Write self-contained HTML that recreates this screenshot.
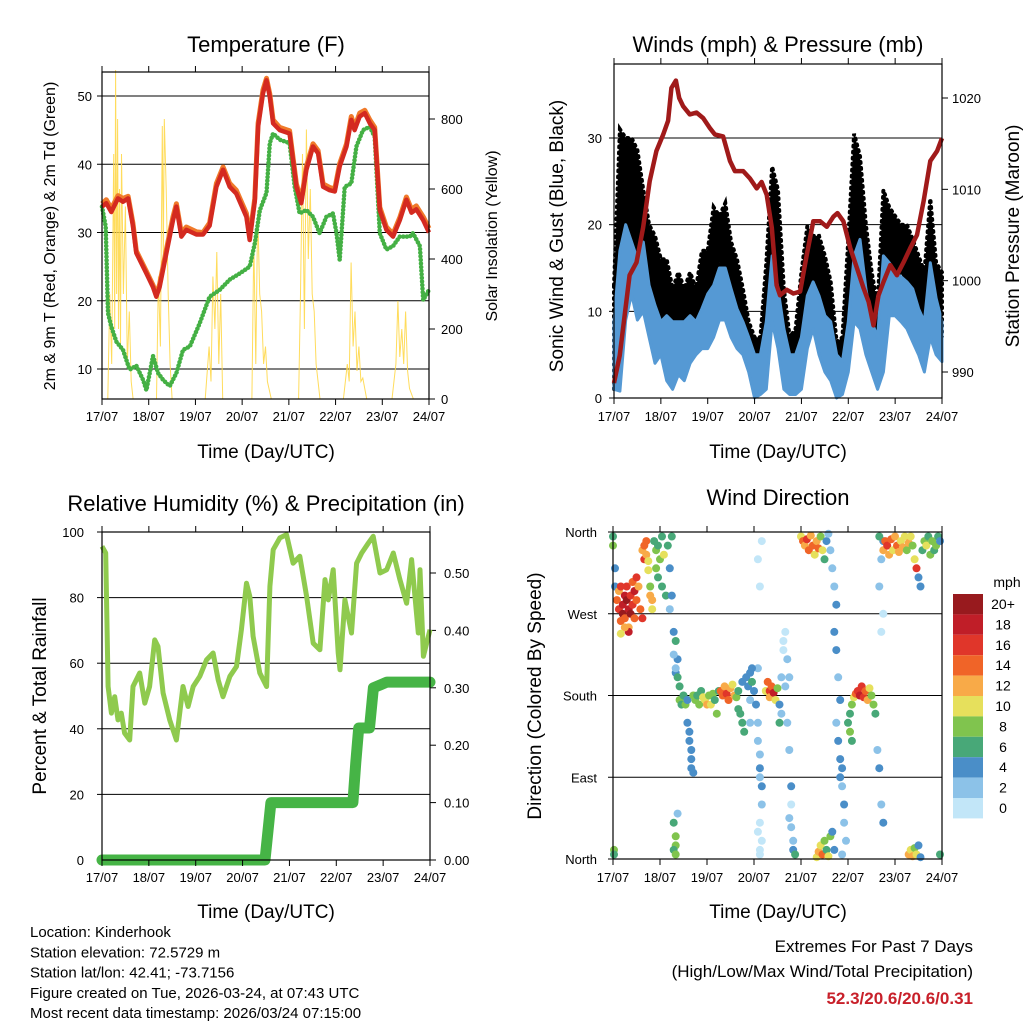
<!DOCTYPE html>
<html><head><meta charset="utf-8">
<style>
html,body{margin:0;padding:0;background:#fff;}
svg{display:block;font-family:"Liberation Sans",Arial,sans-serif;}
</style></head>
<body>
<svg id="c" width="1024" height="1024" viewBox="0 0 1024 1024" xmlns="http://www.w3.org/2000/svg">
</svg>
<script>
// ---------- Temperature panel data ----------
const tempHours=[0,2.2,4.8,8.2,10.8,13.4,15.9,17.6,22.8,26.2,27.9,29.6,33.1,36.5,38.2,40.8,43.3,48.5,51.9,55.3,58.8,62.2,65.6,69.0,74.2,75.9,78.5,80.2,82.7,84.5,86.2,87.9,91.3,96.4,99.9,102.4,105.0,108.4,111.0,113.6,117.0,119.6,122.1,125.6,128.1,129.8,132.4,135.0,137.6,140.1,142.7,146.1,149.5,153.0,156.4,159.0,161.5,165.0,168];
const temp2m=[33.8,34.3,33,35,34.5,35,31,27,24,22,20.6,22,27,31.8,33.8,29.4,30.4,29.7,29.7,31,36.7,39.2,36.7,35.7,32.3,28.9,34.6,45.5,50.4,52.3,49.9,46,45,44.5,36.7,34.3,39.2,42.6,41.6,36.7,36.2,36,39.7,42.6,46.5,45,47,47.5,46,45,33.3,30.4,29.4,31.8,34.8,32.9,33.4,31.8,30];
const temp9m=[34.2,34.8,33.5,35.4,35,35.3,31.4,27.3,24.3,22.3,20.9,22.4,27.5,32.3,34.2,29.9,30.8,30.1,30,31.4,37.2,39.6,37.2,36.2,32.8,29.4,35,46,50.9,52.6,50.3,46.5,45.4,44.9,37.1,34.7,39.7,43,42,37.1,36.6,36.4,40.1,43,47,45.4,47.5,47.9,46.5,45.4,33.7,30.8,29.8,32.2,35.2,33.4,33.9,32.3,30.6];
const dewHours=[0,1.9,3.1,4.8,7.4,10.8,14.2,17.6,21.1,22.8,26.2,28.8,31.4,34.8,38.2,41.6,45.1,50.2,55.3,60.5,65.6,70.8,75.9,78.5,81.1,84.5,86.2,87.9,91.3,96.4,99.0,101.5,105.0,108.4,111.8,115.3,118.7,120.4,122.1,124.7,128.1,130.7,134.1,137.6,140.1,142.7,146.1,149.5,153.0,158.1,159.8,163.3,165.0,168];
const dewPoint=[33.8,30.9,18.2,16.2,14,12.8,9.9,10.5,8.4,6.9,11.9,9.4,8.4,7.5,9.4,12.8,13.3,16.7,20.6,21.6,23.1,24,25,28.4,33.3,35.8,43.1,44.5,43.6,43.1,36.7,32.8,33.3,32.3,29.9,32.3,32.8,30,26,36.7,37.2,42.6,45,45.5,44,29.9,27.5,28,29.4,29.4,29.9,28,20.1,21.6];
const solarHours=[0,3,4,5,6,6.5,7,7.5,8,8.5,9,9.5,10,11,12,13,14,15,16,28,29,30,31,31.5,32,33,34,35,36,53,55,56,57,58,59,60,61,62,77,78,79,80,81,82,83,84,85,87,101,102,103,104,105,106,107,108,109,110,112,124,126,127,128,129,130,131,132,133,134,136,149,151,152,153,154,155,156,157,158,160,168];
const solarWm2=[0,0,300,100,700,200,940,300,800,200,600,150,700,300,550,100,250,50,0,0,350,150,780,400,800,600,300,100,0,0,150,50,350,200,420,100,300,0,0,450,100,540,300,250,100,150,50,0,0,300,700,200,770,400,600,300,250,100,0,0,100,50,390,150,250,80,150,50,60,0,0,100,280,120,200,100,250,80,30,0,0];
const tempTicks=[10,20,30,40,50];
const solarTicks=[0,200,400,600,800];
const dayLabels=["17/07","18/07","19/07","20/07","21/07","22/07","23/07","24/07"];

// ---------- Wind panel data ----------
const windHours=[0,3,6,9,12,15,18,21,24,27,30,33,36,39,42,45,48,51,54,57,60,63,66,69,72,75,78,81,84,87,90,93,96,99,102,105,108,111,114,117,120,123,126,129,132,135,138,141,144,147,150,153,156,159,162,165,168];
const gustHigh=[13,31,30,30,28.6,24,20,18.7,16,16,12.6,14.5,12.6,14.5,12.6,17,17,22,21,22.5,18,16,12.6,8.8,7,7,15.6,26.7,24,12.6,7,8,14.5,19.8,18.7,18.7,16.4,13.4,6.5,7,18.3,30.5,27.9,20,14.5,10.7,24,22,21,20,20,18.3,16.4,14.5,23,15.6,14.5];
const gustLow=[1,16,18,16,16,14.5,12.6,9.5,8.8,8.8,7.6,7,7,8.8,8.8,10.3,10.3,12.6,15.6,15,12,9.5,7.6,5,2,3,5,10.7,12.6,6,3,3,7,10.7,12.6,10.7,8.8,7,2.7,3,8.8,14.5,12.6,8.8,7,5,12.6,14.5,13.4,14.5,12.6,12.6,8.8,8.8,10.7,8.8,7];
const windHigh=[8.8,17,20,18,16,18,13,10.7,8.8,9.5,8.8,8.8,8.8,9.5,8.8,10.3,12,13,15,15,12.6,10.3,8.8,7,5,5,8.8,16.4,12.6,8,5,5,7,11.8,13.4,11.8,9.5,8.8,5,4.2,8.8,16.4,18.3,12.6,8.8,7,16.4,15.6,14.5,14,13.4,12.6,10.3,8.8,15.6,11.5,8.8];
const windLow=[1,0.8,9,12,9,10,7,4,5,2,1,2.7,2,4,5,5.7,5.7,7,9,9,7,5.7,5,3,0,0.4,1,8.8,5.7,1,0.4,0.4,1,5.7,8,5,3,2,0,0.4,3,8.8,8,5,3,1,3,9.5,9.5,8.8,8,6.5,5,3,7,5,4.2];
const presHours=[0,2.9,8.0,11.5,14.9,18.3,21.7,25.2,27.7,29.4,31.7,33.4,35.4,38.8,42.3,45.7,49.1,51.7,55.9,59.4,61.9,66.2,69.6,73.1,75.6,78.2,80.8,83.3,85.0,88.5,91.9,95.3,98.7,102.1,105.6,109.0,112.4,114.5,117.5,121.0,124.4,127.8,130.4,132.9,135.5,138.1,141.5,144.9,148.3,151.8,155.2,158.6,162.0,165.5,168];
const pressureMb=[988.8,991.8,1000.6,1002,1005.8,1010.9,1014.2,1016,1017.5,1021.1,1021.9,1020,1019.1,1018.2,1018.4,1017.8,1016.7,1016,1015.8,1013.1,1012,1012,1011.2,1010.1,1010.8,1009.4,1005.8,999.5,998.4,999,998.6,998.8,1002.8,1006.5,1006.5,1005.9,1007,1007.4,1006.5,1003.6,1001.4,999.2,997.7,995.1,998.4,999.9,1001.7,1000.6,1002,1003.6,1005,1008.7,1013.1,1014.2,1015.6];
const windTicks=[0,10,20,30];
const presTicks=[990,1000,1010,1020];

// ---------- RH / precip data ----------
const rhHours=[0,1.9,3.1,4.8,6.5,8.2,9.9,11.6,14.2,15.9,19.3,21.9,24.4,27.0,28.7,31.3,34.7,38.1,41.5,44.1,46.7,50.1,53.5,56.9,59.5,62.0,65.5,68.9,71.4,74.0,75.7,77.4,80.8,84.3,86.0,87.7,91.1,94.5,97.9,101.3,104.8,108.2,111.6,114.2,115.9,118.4,121.0,121.9,124.4,127.8,130.4,133.0,136.4,138.9,142.4,145.8,149.2,152.6,156.0,158.6,162.0,162.9,164.6,168];
const rhValues=[95.6,93.6,52.9,44.8,49.8,42.7,44.8,38.7,36.6,52.9,57,47.8,52.9,67.1,65.1,50.9,42.7,36.6,52.9,46.8,52.9,56,61,63.1,54.9,49.8,56,59,70.2,84.4,80.4,68.2,57,52.9,83.4,94.6,98.2,99.2,90.5,92.6,80.4,66.1,64.1,85.5,79.3,88.5,63.1,58,79.3,69.2,90.5,93.6,96.6,98.7,87.5,88.5,93.6,85.5,78.3,91.6,69.2,88.5,62.1,70.2];
const precipHours=[0,83.5,86.5,128.5,130,131.5,137,139,146,168];
const precipIn=[0,0,0.1,0.1,0.17,0.23,0.23,0.3,0.31,0.31];
const rhTicks=[0,20,40,60,80,100];
const precipTicks=[0,0.1,0.2,0.3,0.4,0.5];

// ---------- Wind direction data: [hour, degrees, mph] ----------
const dirObs=[[0,355,6],[0,345,8],[0.5,10,8],[0.5,5,6],[1,320,4],[1,300,4],
[2,285,14],[3,275,16],[3,295,12],[4,262,14],[4,300,16],[5,280,18],[5,270,20],[6,290,18],[6,265,14],[7,285,20],[7,300,16],[8,275,18],[8,255,12],[9,290,16],[9,270,20],[10,305,14],[10,280,16],[11,295,18],[11,265,14],[12,310,16],[12,285,14],[13,300,12],[14,275,14],[15,265,16],[8,250,18],[6,255,12],[4,248,10],
[15,340,12],[16,345,14],[16,330,16],[17,335,12],[17,350,14],[18,328,10],[18,318,10],[19,300,8],[19,290,12],[20,275,10],[20,285,12],
[21,350,6],[22,340,8],[22,320,8],[23,345,6],[23,310,6],[24,330,8],[25,300,6],[25,355,6],[26,335,10],[27,290,6],[28,345,6],[29,320,4],[30,355,6],[29,275,2],[30,290,4],
[31,250,4],[32,240,6],[33,220,4],[31,225,2],[32,205,4],[33,200,6],[34,190,6],[34,175,8],[35,170,6],[32,210,2],[31,40,6],[32,25,8],[32,15,8],[31,10,6],[32,5,8],[33,50,2],
[36,180,6],[37,170,8],[38,175,4],[38,150,4],[39,140,4],[39,130,4],[40,120,4],[40,110,4],[41,180,8],[42,175,8],[43,180,6],[44,170,8],[45,185,6],[46,178,10],[47,175,10],[48,170,12],[49,180,8],[50,170,10],[51,182,8],[52,175,6],[53,160,8],[54,185,6],[40,100,4],[41,95,4],
[55,185,14],[56,180,14],[57,190,12],[58,182,16],[59,175,14],[60,188,12],[61,192,10],[62,180,12],[63,178,8],[64,185,6],[64,165,6],[65,160,6],[66,150,6],[66,195,4],[67,140,6],
[68,200,4],[69,190,4],[70,205,4],[70,175,2],[71,195,6],[72,185,4],[73,170,4],[74,210,2],[70,150,2],[71,210,4],
[74,150,2],[74,130,2],[75,115,2],[75,100,4],[75,90,2],[76,80,4],[76,60,2],[75,40,0],[74,30,0],[76,20,0],[75,10,0],[75,5,0],[76,350,0],[74,330,0],[75,300,0],
[78,185,10],[79,195,14],[80,185,16],[80,178,12],[81,190,14],[82,183,18],[83,175,10],[84,188,8],[85,170,4],[86,160,2],[86,200,2],[87,230,0],[87,240,0],[88,250,0],[88,190,2],[85,150,6],
[89,220,2],[90,200,2],[91,60,0],[90,45,2],[91,35,2],[92,20,2],[92,10,4],[93,5,6],[89,150,2],[90,120,2],[91,80,4],
[96,355,10],[97,350,14],[98,345,12],[99,352,16],[100,340,14],[101,356,12],[102,345,14],[103,335,10],[104,350,12],[105,342,14],[106,355,8],[107,340,10],[108,330,6],[109,350,4],[110,358,2],
[104,2,10],[105,8,12],[106,15,10],[107,5,14],[108,20,8],[109,10,6],[110,3,10],[111,25,8],
[111,340,2],[112,320,2],[113,300,2],[114,280,4],[113,250,4],[114,230,4],[115,200,2],[116,175,4],[114,150,2],[115,130,4],[116,110,4],[117,100,4],[116,90,4],[117,80,2],[118,60,4],[118,40,2],[119,20,2],[117,5,2],[112,30,4],[113,10,4],
[120,150,6],[121,160,6],[122,170,8],[123,178,10],[124,182,14],[125,185,16],[126,180,18],[127,190,16],[128,178,16],[129,185,14],[130,175,12],[131,188,10],[132,180,8],[133,170,8],[134,160,6],[121,140,8],[122,130,6],
[135,120,2],[136,100,4],[137,60,2],[138,40,4],[137,250,0],[138,270,0],[136,300,2],[137,330,2],[138,350,4],
[136,355,6],[138,340,12],[139,350,14],[140,345,16],[141,335,12],[142,352,14],[143,340,10],[144,355,12],[145,345,14],[146,338,12],[147,350,10],[148,343,12],[149,355,10],[150,340,8],[151,348,12],[152,355,10],
[153,345,8],[154,330,10],[155,320,16],[156,310,4],[157,300,4],[158,340,6],[159,350,8],[160,345,10],[161,355,6],[162,335,8],[163,350,8],[164,340,6],[165,345,8],[166,355,6],[167,350,4],
[151,5,12],[152,10,10],[153,3,12],[154,12,8],[155,5,10],[156,15,4],[157,2,4],[167,5,6]];
const dirTicks=[0,90,180,270,360];
const dirTickLabels=["North","East","South","West","North"];
const speedLegendLabels=["20+","18","16","14","12","10","8","6","4","2","0"];

// ---------- drawing ----------
const NS="http://www.w3.org/2000/svg";
const svg=document.getElementById('c');
function el(tag,attrs,parent){const e=document.createElementNS(NS,tag);for(const k in attrs)e.setAttribute(k,attrs[k]);(parent||svg).appendChild(e);return e;}
function txt(x,y,s,size,anchor,parent,extra){const t=el('text',Object.assign({x:x,y:y,'font-size':size,'text-anchor':anchor||'middle',fill:'#000'},extra||{}),parent);t.textContent=s;return t;}
function lin(d0,d1,r0,r1){return v=>r0+(v-d0)/(d1-d0)*(r1-r0);}
function pathOf(xs,ys,fx,fy){return xs.map((h,i)=>(i?'L':'M')+fx(h).toFixed(1)+','+fy(ys[i]).toFixed(1)).join('');}
function bandOf(xs,hi,lo,fx,fy){let d=xs.map((h,i)=>(i?'L':'M')+fx(h).toFixed(1)+','+fy(hi[i]).toFixed(1)).join('');for(let i=xs.length-1;i>=0;i--)d+='L'+fx(xs[i]).toFixed(1)+','+fy(lo[i]).toFixed(1);return d+'Z';}

function frame(g,L,T,R,B,dayY){
  for(let d=0;d<=7;d++){const x=L+(R-L)*d/7;
    const tk=el('line',{x1:x,y1:T-6,x2:x,y2:T,stroke:'#000','stroke-width':1},g);
    
    const tb=el('line',{x1:x,y1:B,x2:x,y2:B+6,stroke:'#000','stroke-width':1},g);
    
    const lb=txt(x,dayY,dayLabels[d],13,'middle',g);
    }
  const r=el('rect',{x:L,y:T,width:R-L,height:B-T,fill:'none',stroke:'#000','stroke-width':1.2},g);
  
}
function grid(g,L,R,y){const l=el('line',{x1:L,y1:y,x2:R,y2:y,stroke:'#000','stroke-width':1},g);}

// ===== Panel 1: Temperature =====
(function(){
 const g=el('g',{});
 const L=102,R=429,T=72,B=399;
 const fx=lin(0,168,L,R), fy=lin(10,50,369,96), fs=lin(0,800,399,119);
 tempTicks.forEach(v=>{grid(g,L,R,fy(v));const t=txt(L-10,fy(v)+5,String(v),13,'end',g);
   el('line',{x1:L-5,y1:fy(v),x2:L,y2:fy(v),stroke:'#000'},g);});
 solarTicks.forEach(v=>{el('line',{x1:R,y1:fs(v),x2:R+6,y2:fs(v),stroke:'#000'},g);const t=txt(R+12,fs(v)+5,String(v),13,'start',g);});
 const s=el('path',{d:pathOf(solarHours,solarWm2,fx,fs),fill:'none',stroke:'#ffd84a','stroke-width':1,'stroke-opacity':0.9},g);
 
 const dp=el('path',{d:pathOf(dewHours,dewPoint,fx,fy),fill:'none',stroke:'#44b044','stroke-width':4.5,'stroke-dasharray':'0.1 3.5','stroke-linecap':'round','stroke-linejoin':'round'},g);
 
 const t9=el('path',{d:pathOf(tempHours,temp9m,fx,fy),fill:'none',stroke:'#f07a2a','stroke-width':5,'stroke-linejoin':'round'},g);
 
 const t2=el('path',{d:pathOf(tempHours,temp2m,fx,fy),fill:'none',stroke:'#d42a20','stroke-width':4.5,'stroke-linejoin':'round'},g);
 
 frame(g,L,T,R,B,421);
 let t=txt(266,52,'Temperature (F)',22,'middle',g);
 t=txt(266,458,'Time (Day/UTC)',19,'middle',g);
 t=txt(0,0,'2m & 9m T (Red, Orange) & 2m Td (Green)',16,'middle',g,{transform:'translate(55,236) rotate(-90)'});
 t=txt(0,0,'Solar Insolation (Yellow)',16,'middle',g,{transform:'translate(497,236) rotate(-90)'});
})();

// ===== Panel 2: Winds & Pressure =====
(function(){
 const g=el('g',{});
 const L=614,R=942,T=64,B=398;
 const fx=lin(0,168,L,R), fy=lin(0,30,398,138), fp=lin(990,1020,372,98);
 windTicks.forEach(v=>{if(v>0)grid(g,L,R,fy(v));el('line',{x1:L-5,y1:fy(v),x2:L,y2:fy(v),stroke:'#000'},g);const t=txt(L-12,fy(v)+5,String(v),13,'end',g);});
 presTicks.forEach(v=>{el('line',{x1:R,y1:fp(v),x2:R+6,y2:fp(v),stroke:'#000'},g);const t=txt(R+10,fp(v)+5,String(v),13,'start',g);});
 const gb=el('path',{d:bandOf(windHours,gustHigh,gustLow,fx,fy),fill:'#000',stroke:'#000','stroke-width':4,'stroke-dasharray':'1 5','stroke-linecap':'round'},g);
 
 const wb=el('path',{d:bandOf(windHours,windHigh,windLow,fx,fy),fill:'#5599d4',stroke:'#5599d4','stroke-width':3,'stroke-linejoin':'round'},g);
 
 const pl=el('path',{d:pathOf(presHours,pressureMb,fx,fp),fill:'none',stroke:'#a01a1a','stroke-width':4.5,'stroke-linejoin':'round'},g);
 
 frame(g,L,T,R,B,421);
 let t=txt(778,52,'Winds (mph) & Pressure (mb)',22,'middle',g);
 t=txt(778,458,'Time (Day/UTC)',19,'middle',g);
 t=txt(0,0,'Sonic Wind & Gust (Blue, Black)',19,'middle',g,{transform:'translate(563,236) rotate(-90)'});
 t=txt(0,0,'Station Pressure (Maroon)',19,'middle',g,{transform:'translate(1019,236) rotate(-90)'});
})();

// ===== Panel 3: RH & precip =====
(function(){
 const g=el('g',{});
 const L=102,R=430,T=532,B=860;
 const fx=lin(0,168,L,R), fy=lin(0,100,860,532), fp=lin(0,0.5,860,573);
 rhTicks.forEach(v=>{if(v>0&&v<100)grid(g,L,R,fy(v));el('line',{x1:L-5,y1:fy(v),x2:L,y2:fy(v),stroke:'#000'},g);const t=txt(L-18,fy(v)+5,String(v),13,'end',g);});
 precipTicks.forEach(v=>{el('line',{x1:R,y1:fp(v),x2:R+6,y2:fp(v),stroke:'#000'},g);const t=txt(R+14,fp(v)+5,v.toFixed(2),13,'start',g);});
 const rh=el('path',{d:pathOf(rhHours,rhValues,fx,fy),fill:'none',stroke:'#8fca4e','stroke-width':5,'stroke-linejoin':'round'},g);
 
 const pr=el('path',{d:pathOf(precipHours,precipIn,fx,fp),fill:'none',stroke:'#46b446','stroke-width':11,'stroke-linejoin':'round','stroke-linecap':'round'},g);
 
 frame(g,L,T,R,B,882);
 let t=txt(266,511,'Relative Humidity (%) & Precipitation (in)',22,'middle',g);
 t=txt(266,918,'Time (Day/UTC)',19,'middle',g);
 t=txt(0,0,'Percent & Total Rainfall',19,'middle',g,{transform:'translate(46,696) rotate(-90)'});
})();

// ===== Panel 4: Wind direction =====
const speedColors=['#c2e6f8','#8cc2e8','#4a8ec8','#48a878','#80c44e','#e6e05c','#f8aa48','#f06428','#e0362a','#c01e28','#981a1e'];
(function(){
 const g=el('g',{});
 const L=613,R=942,T=532,B=859;
 const fx=lin(0,168,L,R), fy=lin(0,360,859,532);
 dirTicks.forEach((v,i)=>{if(v>0&&v<360)grid(g,L,R,fy(v));el('line',{x1:L-5,y1:fy(v),x2:L,y2:fy(v),stroke:'#000'},g);const t=txt(L-16,fy(v)+5,dirTickLabels[i],13,'end',g);});
 const pts=el('g',{},g);
 dirObs.forEach(o=>{const ci=Math.min(10,Math.floor(o[2]/2));
   const c=el('circle',{cx:fx(o[0]).toFixed(1),cy:fy(o[1]).toFixed(1),r:4,fill:speedColors[ci]},pts);
   });
 frame(g,L,T,R,B,882);
 let t=txt(778,505,'Wind Direction',22,'middle',g);
 t=txt(778,918,'Time (Day/UTC)',19,'middle',g);
 t=txt(0,0,'Direction (Colored By Speed)',19,'middle',g,{transform:'translate(541,696) rotate(-90)'});
 const lg=el('g',{},g);
 t=txt(1007,587,'mph',14,'middle',lg);
 speedLegendLabels.forEach((lab,i)=>{const y=594+i*20.4;
   const r=el('rect',{x:953,y:y,width:30,height:20.4,fill:speedColors[10-i]},lg);
   
   const tt=txt(1003,y+15,lab,14,'middle',lg);});
})();

// ===== Footer =====
(function(){
 const g=el('g',{});
 const lines=['Location: Kinderhook','Station elevation: 72.5729 m','Station lat/lon: 42.41; -73.7156','Figure created on Tue, 2026-03-24, at 07:43 UTC','Most recent data timestamp: 2026/03/24 07:15:00'];
 lines.forEach((s,i)=>{const t=txt(30,937+i*20.3,s,15,'start',g);});
 const e=el('g',{});
 let t=txt(973,952,'Extremes For Past 7 Days',17,'end',e);
 t=txt(973,977,'(High/Low/Max Wind/Total Precipitation)',17,'end',e);
 t=txt(973,1004,'52.3/20.6/20.6/0.31',17,'end',e,{fill:'#c8202a','font-weight':'bold'});
})();
</script>
</body></html>
